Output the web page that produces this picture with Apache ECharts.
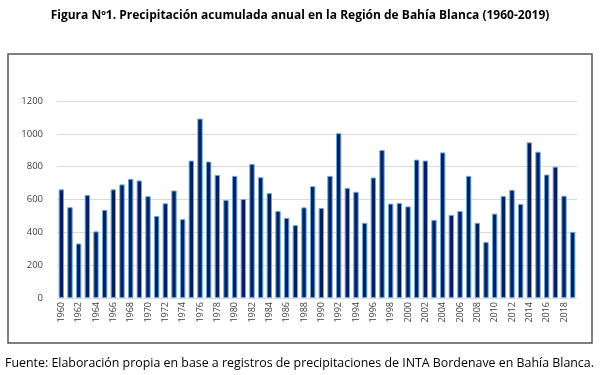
<!DOCTYPE html>
<html><head><meta charset="utf-8">
<script src="https://cdn.jsdelivr.net/npm/echarts@6/dist/echarts.min.js"></script>
<style>html,body{margin:0;padding:0;background:#fff}#c{width:600px;height:375px}</style>
</head><body><div id="c"></div>
<script>
var years = [];
for (var y = 1960; y <= 2019; y++) years.push(String(y));
var precip = [662,553,332,628,406,537,662,692,726,716,620,500,577,655,480,837,1093,831,750,597,744,603,817,736,639,530,488,444,552,681,548,744,1004,671,647,458,734,901,575,579,558,843,837,476,887,506,530,744,458,341,514,621,659,573,948,891,752,800,623,403];
var yTicks = [0,200,400,600,800,1000,1200];
var titleText = 'Figura Nº1. Precipitación acumulada anual en la Región de Bahía Blanca (1960-2019)';
var footerText = 'Fuente: Elaboración propia en base a registros de precipitaciones de INTA Bordenave en Bahía Blanca.';

var chart = echarts.init(document.getElementById('c'));
chart.setOption({
  animation: false,
  title: {
    text: titleText, left: 'center', top: 5,
    textStyle: {fontFamily: 'Open Sans', fontSize: 12, fontWeight: 'bold', color: '#000'}
  },
  graphic: [
    {type: 'rect', shape: {x: 8, y: 54, width: 584, height: 289},
     style: {fill: 'none', stroke: '#555', lineWidth: 1.5}},
    {type: 'text', left: 5, top: 357,
     style: {text: footerText, font: '12.4px "Open Sans"', fill: '#000'}}
  ],
  grid: {left: 57, right: 23, top: 101, bottom: 77},
  xAxis: {
    type: 'category', data: years,
    axisLine: {lineStyle: {color: '#d9d9d9'}},
    axisTick: {show: false},
    axisLabel: {rotate: 90, interval: 1, fontSize: 9, color: '#404040', fontFamily: 'Open Sans', margin: 4}
  },
  yAxis: {
    type: 'value', min: yTicks[0], max: yTicks[yTicks.length-1], interval: 200,
    axisLine: {show: false}, axisTick: {show: false},
    splitLine: {lineStyle: {color: '#d9d9d9'}},
    axisLabel: {fontSize: 9.5, color: '#404040', fontFamily: 'Open Sans', margin: 14,
      formatter: function (v) { return String(v); }}
  },
  series: [{
    type: 'bar', data: precip, barCategoryGap: '38%',
    itemStyle: {color: '#002060', borderColor: '#6fa8dc', borderWidth: 1}
  }]
});
</script></body></html>
